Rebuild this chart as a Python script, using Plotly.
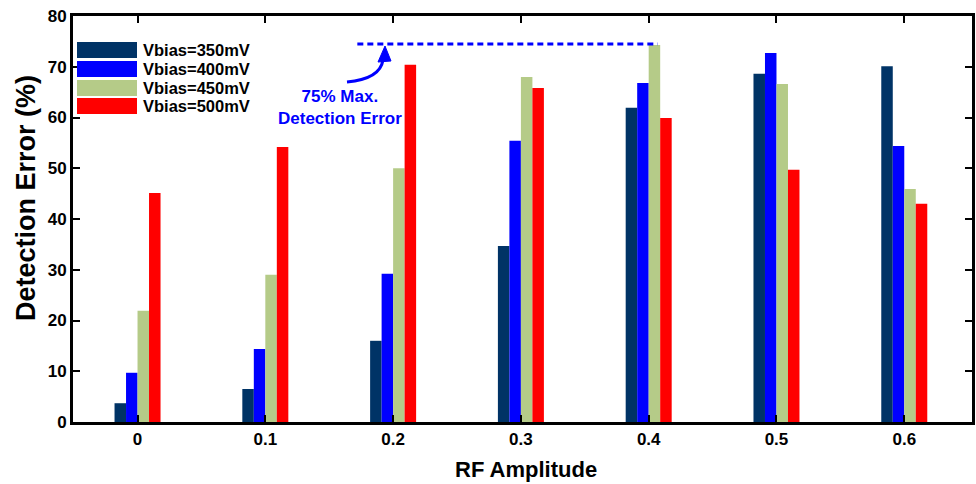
import plotly.graph_objects as go

categories = ["0", "0.1", "0.2", "0.3", "0.4", "0.5", "0.6"]
series_names = ["Vbias=350mV", "Vbias=400mV", "Vbias=450mV", "Vbias=500mV"]
v350 = [3.7, 6.5, 16.0, 34.7, 61.9, 68.6, 70.1]
v400 = [9.7, 14.4, 29.2, 55.4, 66.8, 72.7, 54.4]
v450 = [21.9, 29.0, 50.0, 68.0, 74.3, 66.6, 45.9]
v500 = [45.1, 54.2, 70.4, 65.8, 59.9, 49.7, 43.0]
y_ticks = [0, 10, 20, 30, 40, 50, 60, 70, 80]
max_line_value = 74.5

colors = ["#003366", "#0000FF", "#B5CB88", "#FF0000"]
all_series = [v350, v400, v450, v500]

FONT = "Liberation Sans, Arial, sans-serif"

fig = go.Figure()
for name, vals, col in zip(series_names, all_series, colors):
    fig.add_trace(go.Bar(x=categories, y=vals, name=name, marker=dict(color=col, line=dict(width=0)),
                         showlegend=False))

W, H = 976, 484
# plot area in page pixels
L, R, T, B = 73, 972, 16, 422

def px(xp):
    return (xp - L) / (R - L)

def py(yp):
    return (B - yp) / (B - T)

shapes = []
# custom legend swatches
row_tops = [42, 61, 80, 98]
for i, (name, col) in enumerate(zip(series_names, colors)):
    y0 = row_tops[i]
    shapes.append(dict(type="rect", xref="paper", yref="paper", x0=px(77), x1=px(137),
                       y0=py(y0 + 16), y1=py(y0), fillcolor=col, line=dict(width=0)))

# dashed max line
shapes.append(dict(type="line", xref="x", yref="y", x0=1.72, x1=4.07, y0=max_line_value, y1=max_line_value,
                   line=dict(color="#0000FF", width=3, dash="6px,4px")))
# curved arrow
shapes.append(dict(type="path", xref="paper", yref="paper",
                   path=f"M {px(347)},{py(82)} Q {px(380)},{py(79)} {px(383)},{py(60)}",
                   line=dict(color="#0000FF", width=3)))
shapes.append(dict(type="path", xref="paper", yref="paper",
                   path=f"M {px(385)},{py(46)} L {px(378)},{py(62)} L {px(391)},{py(61)} Z",
                   fillcolor="#0000FF", line=dict(color="#0000FF", width=1)))

annotations = []
for i, name in enumerate(series_names):
    annotations.append(dict(xref="paper", yref="paper", x=px(141), y=py(row_tops[i] + 8),
                            text=name, showarrow=False, xanchor="left", yanchor="middle",
                            font=dict(family=FONT, size=16.5, color="black", weight="bold")))
annotations.append(dict(xref="paper", yref="paper", x=px(340), y=py(108),
                        text="75% Max.<br>Detection Error", showarrow=False,
                        xanchor="center", yanchor="middle", align="center",
                        font=dict(family=FONT, size=17, color="#0000FF", weight="bold")))
annotations.append(dict(xref="paper", yref="paper", x=px(526), y=py(469),
                        text="RF Amplitude", showarrow=False, xanchor="center", yanchor="middle",
                        font=dict(family=FONT, size=22, color="black", weight="bold")))
annotations.append(dict(xref="paper", yref="paper", x=px(26), y=py(198), textangle=-90,
                        text="Detection Error (%)", showarrow=False, xanchor="center", yanchor="middle",
                        font=dict(family=FONT, size=27, color="black", weight="bold")))

fig.update_layout(
    width=W, height=H,
    margin=dict(l=L, r=W - R, t=T, b=H - B),
    paper_bgcolor="white", plot_bgcolor="white",
    barmode="group", bargap=0.64, bargroupgap=0,
    shapes=shapes, annotations=annotations,
    font=dict(family=FONT, color="black"),
)
fig.update_xaxes(
    type="category", range=[-0.505, 6.53], automargin=False,
    showline=True, linecolor="black", linewidth=3, mirror="ticks",
    ticks="inside", ticklen=7, tickwidth=2, tickcolor="black",
    showgrid=False, zeroline=False,
    tickfont=dict(family=FONT, size=17, color="black", weight="bold"),
)
fig.update_yaxes(
    range=[0, 80], tickvals=y_ticks, automargin=False,
    showline=True, linecolor="black", linewidth=3, mirror="ticks",
    ticks="inside", ticklen=7, tickwidth=2, tickcolor="black",
    showgrid=False, zeroline=False,
    tickfont=dict(family=FONT, size=17, color="black", weight="bold"),
)

fig.write_html("out.html", config={"displayModeBar": False},
               post_script="document.body.style.margin='0';document.body.style.overflow='hidden';")
